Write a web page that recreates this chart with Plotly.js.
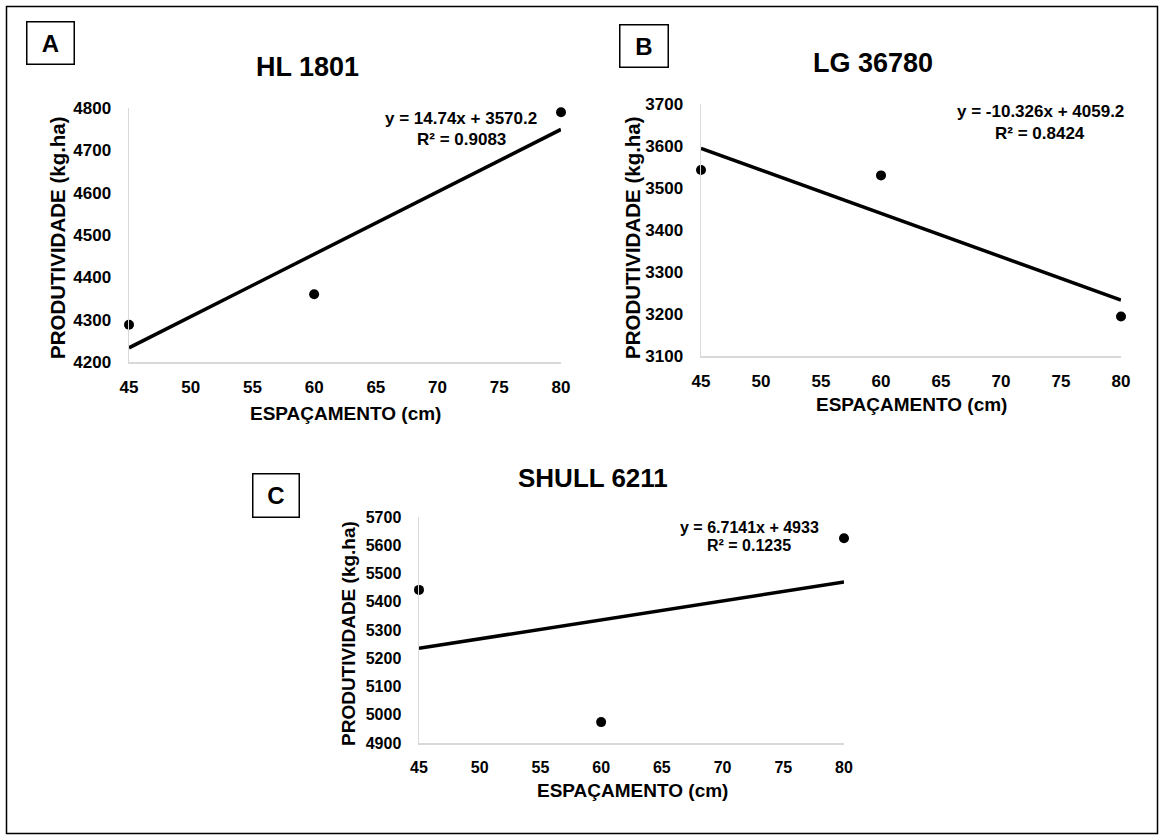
<!DOCTYPE html>
<html>
<head>
<meta charset="utf-8">
<script src="https://cdn.plot.ly/plotly-3.0.1.min.js"></script>
<style>
  html, body { margin: 0; padding: 0; background: #ffffff; }
  #chart { width: 1164px; height: 840px; }
</style>
</head>
<body>
<div id="chart"></div>
<script>
// ---------------- data ----------------
const spacing = [45, 60, 80];                 // ESPAÇAMENTO (cm)
const hl1801 = [4288, 4360, 4790];            // PRODUTIVIDADE (kg.ha)
const lg36780 = [3543, 3530, 3194];
const shull6211 = [5442, 4974, 5625];
const hybrids = ['HL 1801', 'LG 36780', 'SHULL 6211'];
const panelLetters = ['A', 'B', 'C'];
const slopes = [14.74, -10.326, 6.7141];
const intercepts = [3570.2, 4059.2, 4933];
const r2 = ['0.9083', '0.8424', '0.1235'];
const xTicks = [45, 50, 55, 60, 65, 70, 75, 80];
const yRanges = [[4200, 4800], [3100, 3700], [4900, 5700]];
const xLabel = 'ESPAÇAMENTO (cm)';
const yLabel = 'PRODUTIVIDADE (kg.ha)';

// ---------------- layout helpers ----------------
const W = 1164, H = 840;
const fx = p => p / W;
const fy = p => 1 - p / H;
const FONT = 'Liberation Sans, Arial, sans-serif';

const series = [hl1801, lg36780, shull6211];

// plot areas in pixels: [left, right, top, bottom]
const boxes = [
  [129, 561, 108, 362],
  [701, 1121, 104, 356],
  [419, 844, 517, 743]
];
const tickSize = [17, 17, 16];

const data = [];
const layout = {
  width: W, height: H,
  margin: {l: 0, r: 0, t: 0, b: 0},
  paper_bgcolor: '#ffffff',
  plot_bgcolor: '#ffffff',
  showlegend: false,
  annotations: [],
  shapes: []
};

series.forEach((ys, i) => {
  const xa = i === 0 ? 'x' : 'x' + (i + 1);
  const ya = i === 0 ? 'y' : 'y' + (i + 1);
  const xKey = i === 0 ? 'xaxis' : 'xaxis' + (i + 1);
  const yKey = i === 0 ? 'yaxis' : 'yaxis' + (i + 1);
  const b = boxes[i];
  const xMin = spacing[0], xMax = spacing[spacing.length - 1];

  // trend line
  data.push({
    type: 'scatter', mode: 'lines',
    x: [xMin, xMax],
    y: [slopes[i] * xMin + intercepts[i], slopes[i] * xMax + intercepts[i]],
    xaxis: xa, yaxis: ya,
    line: {color: '#000000', width: 3.5},
    cliponaxis: false, hoverinfo: 'skip'
  });
  // points
  data.push({
    type: 'scatter', mode: 'markers',
    x: spacing, y: ys,
    xaxis: xa, yaxis: ya,
    marker: {color: '#000000', size: 10},
    cliponaxis: false
  });

  const tf = {family: FONT, size: tickSize[i], color: '#000000', weight: 700};
  layout[xKey] = {
    domain: [fx(b[0]), fx(b[1])],
    anchor: ya,
    range: [xMin, xMax],
    tickvals: xTicks,
    ticktext: xTicks.map(String),
    showgrid: false, zeroline: false,
    showline: true, linecolor: '#d9d9d9', linewidth: 1.5,
    ticks: '', tickfont: tf, ticklabelstandoff: 9,
    fixedrange: true
  };
  const yr = yRanges[i];
  const yt = [];
  for (let v = yr[0]; v <= yr[1]; v += 100) yt.push(v);
  layout[yKey] = {
    domain: [fy(b[3]), fy(b[2])],
    anchor: xa,
    range: yr,
    tickvals: yt,
    ticktext: yt.map(String),
    showgrid: false, zeroline: false,
    showline: true, linecolor: '#d9d9d9', linewidth: 1.5,
    ticks: '', tickfont: tf, ticklabelstandoff: 13,
    fixedrange: true
  };
});

// text placements (pixels)
const titlePos = [[307, 67], [873, 63], [593, 478]];
const titleSize = [27, 27, 26];
const yTitlePos = [[57, 238], [632, 238], [348, 634]];
const yTitleSize = [20.5, 20.5, 19];
const xTitlePos = [[345, 413], [911, 404], [632, 790]];
const xTitleSize = [19, 19, 19];
const eqPos = [[461, 119, 140], [1040, 112, 133], [749, 527, 545]];
const eqSize = [17, 17, 16];
const letterBox = [[50, 42.5, 46, 41], [643.5, 45.5, 47, 41], [275.5, 495, 45, 42]];

function fmtEq(i) {
  const s = slopes[i];
  return 'y = ' + (s < 0 ? '-' + Math.abs(s) : s) + 'x + ' + intercepts[i];
}

for (let i = 0; i < 3; i++) {
  const bold = (sz) => ({family: FONT, size: sz, color: '#000000', weight: 700});
  layout.annotations.push({
    xref: 'paper', yref: 'paper', x: fx(titlePos[i][0]), y: fy(titlePos[i][1]),
    xanchor: 'center', yanchor: 'middle', showarrow: false,
    text: hybrids[i], font: bold(titleSize[i])
  });
  layout.annotations.push({
    xref: 'paper', yref: 'paper', x: fx(yTitlePos[i][0]), y: fy(yTitlePos[i][1]),
    xanchor: 'center', yanchor: 'middle', showarrow: false, textangle: -90,
    text: yLabel, font: bold(yTitleSize[i])
  });
  layout.annotations.push({
    xref: 'paper', yref: 'paper', x: fx(xTitlePos[i][0]), y: fy(xTitlePos[i][1]),
    xanchor: 'center', yanchor: 'middle', showarrow: false,
    text: xLabel, font: bold(xTitleSize[i])
  });
  layout.annotations.push({
    xref: 'paper', yref: 'paper', x: fx(eqPos[i][0]), y: fy(eqPos[i][1]),
    xanchor: 'center', yanchor: 'middle', showarrow: false,
    text: fmtEq(i), font: bold(eqSize[i])
  });
  layout.annotations.push({
    xref: 'paper', yref: 'paper', x: fx(eqPos[i][0]), y: fy(eqPos[i][2]),
    xanchor: 'center', yanchor: 'middle', showarrow: false,
    text: 'R² = ' + r2[i], font: bold(eqSize[i])
  });
  const lb = letterBox[i];
  layout.annotations.push({
    xref: 'paper', yref: 'paper', x: fx(lb[0]), y: fy(lb[1]),
    xanchor: 'center', yanchor: 'middle', showarrow: false,
    text: panelLetters[i], font: bold(24),
    width: lb[2], height: lb[3], align: 'center', valign: 'middle',
    bordercolor: '#000000', borderwidth: 1.5, borderpad: 0, bgcolor: '#ffffff'
  });
}

// outer frame
layout.shapes.push({
  type: 'rect', xref: 'paper', yref: 'paper',
  x0: fx(6.5), x1: fx(1157.5), y0: fy(833.5), y1: fy(6.5),
  line: {color: '#000000', width: 1.5}
});

Plotly.newPlot('chart', data, layout, {staticPlot: true, displayModeBar: false});
</script>
</body>
</html>
